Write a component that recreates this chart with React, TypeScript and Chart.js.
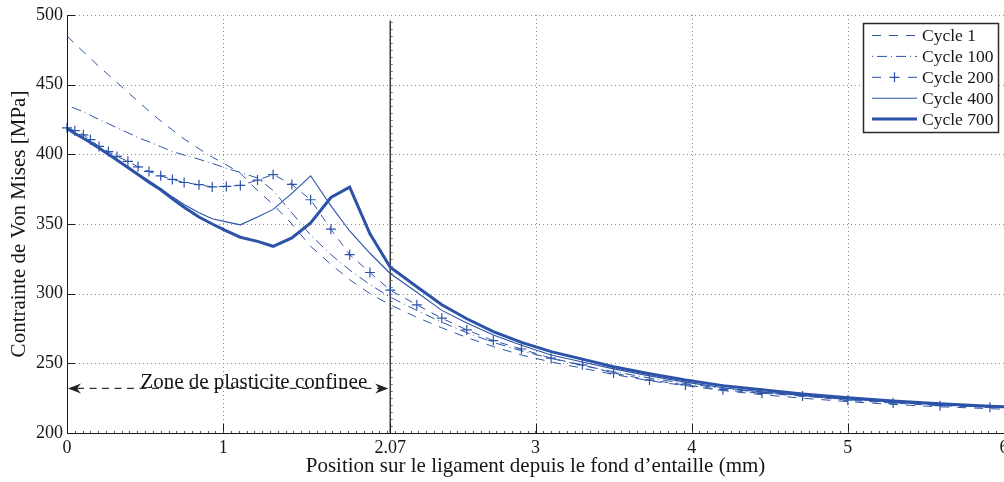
import React, { useEffect, useRef } from "react";
import { Chart, registerables } from "chart.js";

Chart.register(...registerables);

// ---------- data ----------
const positions = [0, 0.05, 0.105, 0.15, 0.205, 0.265, 0.32, 0.39, 0.455, 0.525, 0.6, 0.675, 0.75, 0.845, 0.93, 1.02, 1.11, 1.22, 1.32, 1.44, 1.56, 1.69, 1.81, 1.94, 2.07, 2.24, 2.4, 2.56, 2.73, 2.91, 3.1, 3.3, 3.5, 3.73, 3.96, 4.2, 4.45, 4.71, 5.0, 5.29, 5.59, 5.91, 6.2];

const cycle1 = [485, 479.5, 473.5, 469, 463, 457, 451.5, 444.5, 438, 431, 424, 417.5, 411, 404, 398, 392.5, 386.5, 374, 364, 350, 334, 321, 310, 300, 292, 283, 275.5, 268.5, 262, 256, 251, 246.5, 242, 237.5, 234, 230.5, 227.5, 225, 222.5, 220.5, 218.8, 217.5, 216];
const cycle100 = [435, 433, 430.5, 428, 425, 422, 419, 415.5, 412, 409, 405.5, 402, 399.5, 396.5, 393.5, 390, 387, 383, 374, 358, 342, 328, 317, 306.5, 297.5, 288, 279.5, 272, 265, 259, 253.5, 248.5, 244, 239.5, 235.5, 232, 229, 226.5, 224, 222, 220, 218.5, 217.2];
const cycle200 = [419, 417, 414, 410.5, 405.7, 402, 398.5, 395, 391, 387.7, 384.6, 382, 379.8, 378.2, 376.6, 377, 377.7, 381.5, 385.5, 378.4, 367.4, 346.3, 328, 315.2, 302.5, 292, 282.4, 274, 266.3, 260.3, 253.7, 248.9, 243, 238, 234.5, 231, 228.5, 226.6, 223.5, 221.5, 219.6, 218.5, 217.5];
const cycle400 = [418.5, 415, 411.5, 408.5, 404.5, 400, 396, 391, 386, 381, 375.5, 369.5, 364, 358, 353.7, 351.5, 349.4, 355, 360.5, 372, 384.6, 363, 345, 329, 314.5, 301, 288, 279, 270.4, 263, 256, 251, 246, 241, 236.5, 232.5, 229.5, 227, 224.5, 222.3, 220.5, 218.8, 217.5];
const cycle700 = [418.5, 415, 411.5, 408.5, 404.5, 400, 396, 390.5, 385.5, 380, 374.5, 368, 362, 355, 350, 345, 340.5, 337.5, 334, 340, 350.7, 369, 376.5, 343, 319, 305, 292, 282, 272.8, 265, 258.4, 253, 247.5, 242.5, 238, 234, 231, 228, 225.3, 223, 221, 219.2, 218];

const seriesLabels = ["Cycle 1", "Cycle 100", "Cycle 200", "Cycle 400", "Cycle 700"];
const xTickValues = [0, 1, 2.07, 3, 4, 5, 6];
const yTickValues = [200, 250, 300, 350, 400, 450, 500];
const zoneBoundary = 2.07;
const zoneLabel = "Zone de plasticite confinee";
const xTitle = "Position sur le ligament depuis le fond d\u2019entaille (mm)";
const yTitle = "Contrainte de Von Mises [MPa]";

// ---------- styles ----------
const BLUE = "#2c53a8";
const FONT = '"Liberation Serif", "Times New Roman", serif';
const TEXT = "#161616";

const mkDataset = (label: string, values: number[], extra: any) => ({
  label,
  data: positions.map((x, i) => ({ x, y: values[i] })),
  borderColor: BLUE,
  backgroundColor: BLUE,
  pointRadius: 0,
  borderWidth: 1,
  tension: 0,
  clip: false,
  ...extra,
});

function arrowHead(ctx: CanvasRenderingContext2D, tipX: number, tipY: number, dir: number) {
  const L = 13, W = 5, notch = 4;
  ctx.beginPath();
  ctx.moveTo(tipX, tipY);
  ctx.lineTo(tipX - dir * L, tipY - W);
  ctx.lineTo(tipX - dir * (L - notch), tipY);
  ctx.lineTo(tipX - dir * L, tipY + W);
  ctx.closePath();
  ctx.fill();
}

function drawCross(ctx: CanvasRenderingContext2D, cx: number, cy: number, r: number) {
  ctx.beginPath();
  ctx.moveTo(cx - r, cy);
  ctx.lineTo(cx + r, cy);
  ctx.moveTo(cx, cy - r);
  ctx.lineTo(cx, cy + r);
  ctx.stroke();
}

const decorPlugin = {
  id: "decor",
  beforeDatasetsDraw(chart: any) {
    const { ctx, chartArea: a, scales } = chart;
    const x = scales.x, y = scales.y;
    ctx.save();
    // dotted grid
    ctx.strokeStyle = "#8c8c8c";
    ctx.lineWidth = 1;
    ctx.setLineDash([1, 3]);
    for (const v of yTickValues) {
      if (v === 200) continue;
      const py = Math.round(y.getPixelForValue(v)) + 0.5;
      ctx.beginPath(); ctx.moveTo(a.left, py); ctx.lineTo(a.right, py); ctx.stroke();
    }
    for (const v of xTickValues) {
      if (v === 0 || v === zoneBoundary) continue;
      const px = Math.round(x.getPixelForValue(v)) + 0.5;
      ctx.beginPath(); ctx.moveTo(px, a.top); ctx.lineTo(px, a.bottom); ctx.stroke();
    }
    ctx.setLineDash([]);
    // boundary line of the confined plastic zone
    const bx = x.getPixelForValue(zoneBoundary);
    ctx.strokeStyle = "#3a3a3a";
    ctx.lineWidth = 1.5;
    ctx.beginPath(); ctx.moveTo(bx, y.getPixelForValue(496)); ctx.lineTo(bx, a.bottom); ctx.stroke();
    ctx.lineWidth = 1;
    ctx.strokeStyle = "#777";
    for (let v = 205; v < 496; v += 5) {
      const py = Math.round(y.getPixelForValue(v)) + 0.5;
      ctx.beginPath(); ctx.moveTo(bx + 0.5, py); ctx.lineTo(bx + 2.5, py); ctx.stroke();
    }
    ctx.restore();
  },
  afterDatasetsDraw(chart: any) {
    const { ctx, chartArea: a, scales } = chart;
    const x = scales.x, y = scales.y;
    ctx.save();
    // axes
    ctx.strokeStyle = "#1a1a1a";
    ctx.lineWidth = 1;
    ctx.beginPath();
    ctx.moveTo(a.left + 0.5, a.top);
    ctx.lineTo(a.left + 0.5, a.bottom + 0.5);
    ctx.lineTo(a.right, a.bottom + 0.5);
    ctx.stroke();
    // inward major ticks
    for (const v of yTickValues) {
      const py = Math.round(y.getPixelForValue(v)) + 0.5;
      ctx.beginPath(); ctx.moveTo(a.left, py); ctx.lineTo(a.left + 8, py); ctx.stroke();
    }
    for (const v of xTickValues) {
      const px = Math.round(x.getPixelForValue(v)) + 0.5;
      ctx.beginPath(); ctx.moveTo(px, a.bottom); ctx.lineTo(px, a.bottom - 9); ctx.stroke();
    }
    // minor ticks on the bottom axis
    ctx.strokeStyle = "#555";
    for (let v = 0.05; v < 6; v += 0.05) {
      const px = Math.round(x.getPixelForValue(v)) + 0.5;
      ctx.beginPath(); ctx.moveTo(px, a.bottom); ctx.lineTo(px, a.bottom - 2); ctx.stroke();
    }
    // annotation: confined plastic zone
    const ay = y.getPixelForValue(232);
    const x0 = x.getPixelForValue(0);
    const x1 = x.getPixelForValue(zoneBoundary);
    ctx.strokeStyle = "#333";
    ctx.fillStyle = "#222";
    ctx.lineWidth = 1.2;
    ctx.setLineDash([7, 5.5]);
    ctx.beginPath(); ctx.moveTo(x0 + 10, ay); ctx.lineTo(x1 - 10, ay); ctx.stroke();
    ctx.setLineDash([]);
    arrowHead(ctx, x0 + 1, ay, -1);
    arrowHead(ctx, x1 - 2, ay, 1);
    ctx.font = `21px ${FONT}`;
    ctx.fillStyle = TEXT;
    ctx.textAlign = "left";
    ctx.textBaseline = "alphabetic";
    ctx.fillText(zoneLabel, x.getPixelForValue(0.47), ay);

    // legend
    const lx = 863.5, ly = 23.5, lw = 135, lh = 109;
    ctx.fillStyle = "#fff";
    ctx.fillRect(lx, ly, lw, lh);
    ctx.strokeStyle = "#2a2a2a";
    ctx.lineWidth = 1.5;
    ctx.strokeRect(lx, ly, lw, lh);
    const ds = chart.data.datasets;
    ds.forEach((d: any, i: number) => {
      const cy = 35.5 + i * 20.9;
      const sx = 872, ex = 917;
      ctx.strokeStyle = d.borderColor;
      ctx.lineWidth = d.borderWidth;
      if (d.pointStyle === "cross") {
        ctx.setLineDash([9, 27]);
      } else {
        ctx.setLineDash(d.borderDash || []);
      }
      ctx.beginPath(); ctx.moveTo(sx, cy); ctx.lineTo(ex, cy); ctx.stroke();
      ctx.setLineDash([]);
      if (d.pointStyle === "cross") {
        ctx.lineWidth = d.pointBorderWidth;
        drawCross(ctx, (sx + ex) / 2, cy, d.pointRadius);
      }
      ctx.fillStyle = TEXT;
      ctx.font = `17.5px ${FONT}`;
      ctx.textAlign = "left";
      ctx.textBaseline = "middle";
      ctx.fillText(d.label, 922, cy + 1);
    });
    ctx.restore();
  },
};

export default function App() {
  const ref = useRef<HTMLCanvasElement | null>(null);
  useEffect(() => {
    if (!ref.current) return;
    const datasets = [
      mkDataset(seriesLabels[0], cycle1, { borderDash: [9, 8] }),
      mkDataset(seriesLabels[1], cycle100, { borderDash: [1, 4, 10, 4] }),
      mkDataset(seriesLabels[2], cycle200, {
        borderDash: [8, 7],
        pointStyle: "cross",
        pointRadius: 5,
        pointBorderWidth: 1.2,
        pointBorderColor: BLUE,
        pointBackgroundColor: "rgba(0,0,0,0)",
      }),
      mkDataset(seriesLabels[3], cycle400, { borderWidth: 1.1 }),
      mkDataset(seriesLabels[4], cycle700, { borderWidth: 3 }),
    ];
    const chart = new Chart(ref.current, {
      type: "line",
      data: { datasets },
      plugins: [decorPlugin],
      options: {
        animation: false,
        responsive: false,
        devicePixelRatio: 1,
        layout: { autoPadding: false, padding: { top: 15, left: 0, right: 0, bottom: 0 } },
        plugins: { legend: { display: false }, tooltip: { enabled: false } },
        scales: {
          x: {
            type: "linear",
            min: 0,
            max: 6,
            afterBuildTicks: (s: any) => {
              s.ticks = xTickValues.map((v) => ({ value: v }));
            },
            afterFit: (s: any) => {
              s.height = 49;
              s.paddingLeft = 0;
              s.paddingRight = 0;
            },
            grid: { display: false, drawTicks: false },
            border: { display: false },
            ticks: {
              padding: 4,
              color: TEXT,
              autoSkip: false,
              maxRotation: 0,
              font: { family: FONT, size: 18 },
              callback: (v: any) => String(v),
            },
            title: {
              display: true,
              text: xTitle,
              color: TEXT,
              font: { family: FONT, size: 21 },
              padding: { top: 0, bottom: 3 },
            },
          },
          y: {
            type: "linear",
            min: 200,
            max: 500,
            afterBuildTicks: (s: any) => {
              s.ticks = yTickValues.map((v) => ({ value: v }));
            },
            afterFit: (s: any) => {
              s.width = 67;
              s.paddingTop = 0;
              s.paddingBottom = 0;
            },
            grid: { display: false, drawTicks: false },
            border: { display: false },
            ticks: {
              padding: 4,
              color: TEXT,
              font: { family: FONT, size: 18 },
              callback: (v: any) => String(v),
            },
            title: {
              display: true,
              text: yTitle,
              color: TEXT,
              font: { family: FONT, size: 21 },
              padding: { top: 7, bottom: 0 },
            },
          },
        },
      },
    } as any);
    return () => chart.destroy();
  }, []);
  return (
    <div style={{ position: "fixed", left: 0, top: 0, width: 1004, height: 482, background: "#fff" }}>
      <canvas ref={ref} width={1004} height={482} style={{ width: 1004, height: 482, display: "block" }} />
    </div>
  );
}
